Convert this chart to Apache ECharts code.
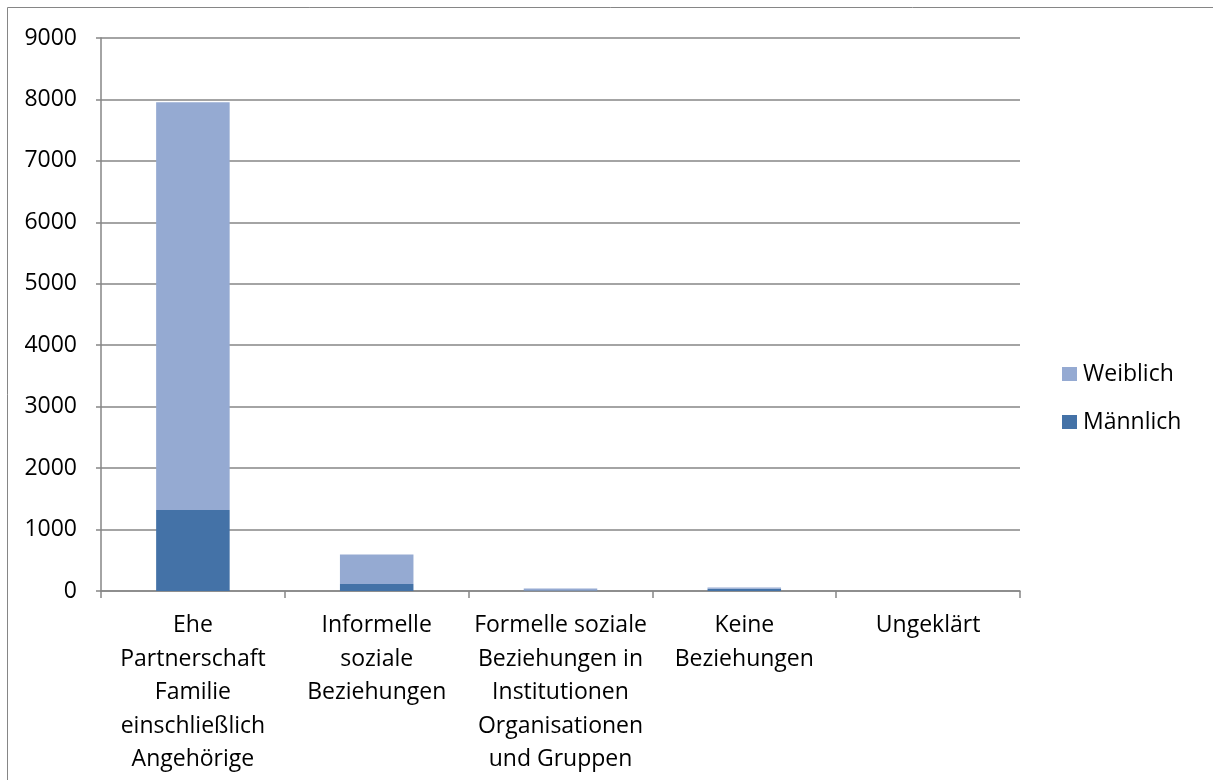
<!DOCTYPE html>
<html>
<head>
<meta charset="utf-8">
<script src="https://cdn.jsdelivr.net/npm/echarts@6/dist/echarts.min.js"></script>
<style>
  html, body { margin: 0; padding: 0; background: #fff; }
  #chart { width: 1213px; height: 780px; }
</style>
</head>
<body>
<div id="chart"></div>
<script>
// Beziehungskategorien und Werte je Geschlecht
const categories = [
  'Ehe\nPartnerschaft\nFamilie\neinschließlich\nAngehörige',
  'Informelle\nsoziale\nBeziehungen',
  'Formelle soziale\nBeziehungen in\nInstitutionen\nOrganisationen\nund Gruppen',
  'Keine\nBeziehungen',
  'Ungeklärt'
];
const maennlich = [1320, 115, 8, 38, 0];
const weiblich = [6635, 480, 32, 20, 0];
const yTicks = { min: 0, max: 9000, interval: 1000 };

const font = '"Open Sans", "Noto Sans", sans-serif';
const axisGrey = '#868686';

const chart = echarts.init(document.getElementById('chart'), null, { renderer: 'canvas' });
chart.setOption({
  animation: false,
  backgroundColor: '#ffffff',
  textStyle: { fontFamily: font },
  graphic: [{
    // Rahmen des Diagrammbereichs (rechts und unten über den Rand hinaus)
    type: 'rect',
    shape: { x: 7.5, y: 7.5, width: 1300, height: 900 },
    style: { fill: 'none', stroke: axisGrey, lineWidth: 1 },
    silent: true
  }],
  grid: { left: 101, right: 193, top: 38, bottom: 189, containLabel: false },
  legend: {
    orient: 'vertical',
    left: 1062,
    top: 362,
    padding: 0,
    itemWidth: 15,
    itemHeight: 14,
    itemGap: 24,
    icon: 'rect',
    data: ['Weiblich', 'Männlich'],
    textStyle: { fontFamily: font, fontSize: 23, lineHeight: 24, color: '#000', padding: [0, 0, 0, 1] }
  },
  xAxis: {
    type: 'category',
    data: categories,
    axisLine: { lineStyle: { color: axisGrey, width: 1.5 } },
    axisTick: { show: true, length: 7, alignWithLabel: false, lineStyle: { color: axisGrey, width: 1.5 } },
    axisLabel: {
      interval: 0,
      margin: 18,
      fontFamily: font,
      fontSize: 23,
      lineHeight: 33.5,
      color: '#000',
      align: 'center'
    }
  },
  yAxis: {
    type: 'value',
    min: yTicks.min,
    max: yTicks.max,
    interval: yTicks.interval,
    axisLine: { show: true, lineStyle: { color: axisGrey, width: 1.5 } },
    axisTick: { show: true, length: 5, lineStyle: { color: axisGrey, width: 1.5 } },
    axisLabel: {
      margin: 24,
      fontFamily: font,
      fontSize: 23,
      color: '#000',
      formatter: (v) => String(v)
    },
    splitLine: { show: true, lineStyle: { color: axisGrey, width: 1.5 } }
  },
  series: [
    {
      name: 'Männlich',
      type: 'bar',
      stack: 'gesamt',
      data: maennlich,
      barWidth: '40%',
      itemStyle: { color: '#4472a7' }
    },
    {
      name: 'Weiblich',
      type: 'bar',
      stack: 'gesamt',
      data: weiblich,
      barWidth: '40%',
      itemStyle: { color: '#95aad2' }
    }
  ]
});
</script>
</body>
</html>
